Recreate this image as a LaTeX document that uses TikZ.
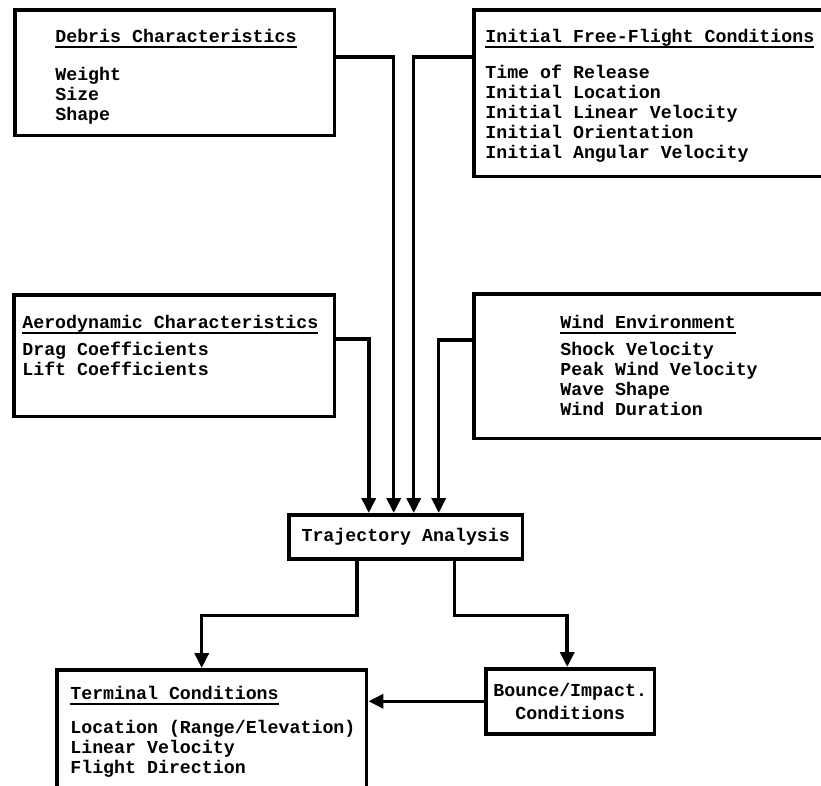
\documentclass[tikz,border=0pt]{standalone}
\usepackage{fontspec}
\setmonofont{Liberation Mono}
\usepackage{tikz}
\usetikzlibrary{arrows.meta, positioning}

% titolo sottolineato
\newcommand{\hdr}[1]{\setbox0\hbox{#1}\rlap{\raisebox{-3.2pt}{\rule{\wd0}{1.2pt}}}\box0}

\begin{document}
\begin{tikzpicture}[x=0.02cm, y=-0.02cm,
	>={Triangle[width=0.28cm,length=0.3cm]},
	box/.style={draw, line width=2pt, inner sep=0pt, anchor=north west,
		font=\ttfamily\bfseries\fontsize{10.4}{11.4}\selectfont},
	txt/.style={align=left, inner sep=0pt, anchor=north west,
		font=\ttfamily\bfseries\fontsize{10.4}{11.4}\selectfont},
	flow/.style={->, line width=2pt}]
	
	\useasboundingbox (0,0) rectangle (821,785);
	\clip (0,0) rectangle (821,785);
	
	% Riquadri in alto
	\node[box, minimum width=6.4cm, minimum height=2.52cm] (debris) at (13,8) {};
	\node[txt] (debristxt) at (55,29) {\hdr{Debris Characteristics}\\[10pt]Weight\\Size\\Shape};
	
	\node[box, minimum width=7.2cm, minimum height=3.34cm] (freeflight) at (472,8) {};
	\node[txt] (freeflighttxt) at (485,29) {\hdr{Initial Free-Flight Conditions}\\[9pt]Time of Release\\Initial Location\\Initial Linear Velocity\\Initial Orientation\\Initial Angular Velocity};
	
	% Riquadri intermedi
	\node[box, minimum width=6.42cm, minimum height=2.44cm] (aero) at (12,293) {};
	\node[txt] (aerotxt) at (22,315) {\hdr{Aerodynamic Characteristics}\\[4pt]Drag Coefficients\\Lift Coefficients};
	
	\node[box, minimum width=7.2cm, minimum height=2.9cm] (wind) at (472,292) {};
	\node[txt] (windtxt) at (560,315) {\hdr{Wind Environment}\\[4pt]Shock Velocity\\Peak Wind Velocity\\Wave Shape\\Wind Duration};
	
	% Analisi della traiettoria
	\node[box, minimum width=4.68cm, minimum height=0.88cm] (traj) at (287,513) {Trajectory Analysis};
	
	% Riquadri in basso
	\node[box, minimum width=6.2cm, minimum height=2.8cm] (terminal) at (55,668) {};
	\node[txt] (terminaltxt) at (70,686) {\hdr{Terminal Conditions}\\[8pt]Location (Range/Elevation)\\Linear Velocity\\Flight Direction};
	
	\node[box, minimum width=3.38cm, minimum height=1.3cm, align=center] (bounce) at (484,667) {Bounce/Impact.\\[2pt]Conditions};
	
	% Frecce verso l'analisi
	\draw[flow] ([yshift=-0.92cm]aero.north east) -| ([xshift=-0.74cm]traj.north);
	\draw[flow] ([yshift=-0.98cm]debris.north east) -| ([xshift=-0.24cm]traj.north);
	\draw[flow] ([yshift=-0.98cm]freeflight.north west) -| ([xshift=0.16cm]traj.north);
	\draw[flow] ([yshift=-0.96cm]wind.north west) -| ([xshift=0.66cm]traj.north);
	
	% Frecce in uscita
	\draw[flow] ([xshift=-0.98cm]traj.south) -- ++(0,55) -| ([xshift=-0.2cm]terminal.north);
	\draw[flow] ([xshift=0.98cm]traj.south) -- ++(0,55) -| ([xshift=-0.06cm]bounce.north);
	\draw[flow] (bounce.west) -- (bounce.west -| terminal.east);
	
\end{tikzpicture}
\end{document}
